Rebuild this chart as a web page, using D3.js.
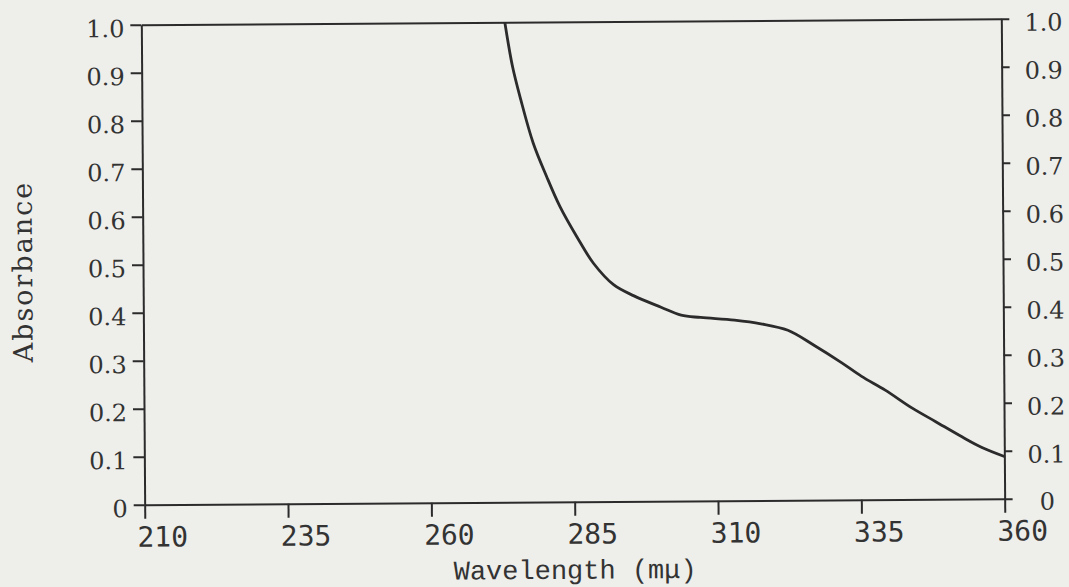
<!DOCTYPE html>
<html>
<head>
<meta charset="utf-8">
<script src="https://cdn.jsdelivr.net/npm/d3@7"></script>
<style>
  html, body { margin: 0; padding: 0; background: #eeeeeb; }
  svg { display: block; }
  .axis path, .axis line { stroke: #2b2b2b; stroke-width: 2; }
</style>
</head>
<body>
<script>

// absorbance spectrum
var wavelength = [273.4, 274.7, 276.1, 278.2, 280.5, 282.8, 285.7, 288.6, 292.1, 295.6,
                  300.3, 303.8, 307.2, 313.1, 317.7, 322.4, 327.0, 331.7, 335.2, 339.3,
                  344.0, 348.0, 352.7, 356.1, 360];
var absorbance = [1.0, 0.907, 0.838, 0.748, 0.678, 0.615, 0.552, 0.496, 0.451, 0.428,
                  0.404, 0.387, 0.382, 0.376, 0.368, 0.354, 0.322, 0.286, 0.257, 0.228,
                  0.190, 0.162, 0.129, 0.107, 0.088];

// tick labels
var xTicks = [210, 235, 260, 285, 310, 335, 360];
var yTicks = [0, 0.1, 0.2, 0.3, 0.4, 0.5, 0.6, 0.7, 0.8, 0.9, 1.0];

var width = 1069, height = 587;
var margin = {top: 22, right: 66, bottom: 85, left: 143};
var w = width - margin.left - margin.right;
var h = height - margin.top - margin.bottom;

var ink = '#2b2b2b';

var svg = d3.select('body').append('svg')
            .attr('width', width)
            .attr('height', height);

svg.append('rect')
   .attr('width', width)
   .attr('height', height)
   .attr('fill', '#eeeeeb');

// the scan is a little tilted, so tilt the whole drawing a touch
var page = svg.append('g')
              .attr('transform', 'rotate(-0.4,' + (width / 2) + ',' + (height / 2 - 30) + ')');

var focus = page.append('g')
                .attr('transform', 'translate(' + margin.left + ',' + margin.top + ')');

var xScale = d3.scaleLinear().domain([210, 360]).range([0, w]);
var yScale = d3.scaleLinear().domain([0, 1]).range([h, 0]);

var yFormat = function(d) { return d === 0 ? '0' : d3.format('.1f')(d); };

// left axis
var leftAxis = focus.append('g')
     .attr('class', 'axis axis--left')
     .call(d3.axisLeft(yScale).tickValues(yTicks).tickFormat(yFormat)
             .tickSize(11).tickSizeOuter(0).tickPadding(6));
leftAxis.selectAll('text')
        .attr('transform', 'translate(0,4)')
        .style('font-family', '"DejaVu Serif", serif')
        .style('font-size', '24px')
        .attr('fill', '#333');

// right axis
var rightAxis = focus.append('g')
     .attr('class', 'axis axis--right')
     .attr('transform', 'translate(' + w + ',0)')
     .call(d3.axisRight(yScale).tickValues(yTicks).tickFormat(yFormat)
             .tickSize(8).tickSizeOuter(0).tickPadding(15));
rightAxis.selectAll('text')
         .attr('transform', 'translate(0,4)')
         .style('font-family', '"DejaVu Serif", serif')
         .style('font-size', '24px')
         .attr('fill', '#333');
// the 0 on the right sits a little lower, past the tick
rightAxis.selectAll('.tick')
         .filter(function(d) { return d === 0; })
         .select('text')
         .attr('transform', 'translate(12,3)');

// bottom axis, labels start just left of each tick
var bottomAxis = focus.append('g')
     .attr('class', 'axis axis--x')
     .attr('transform', 'translate(0,' + h + ')')
     .call(d3.axisBottom(xScale).tickValues(xTicks).tickFormat(d3.format('d'))
             .tickSize(14).tickSizeOuter(0).tickPadding(8));
bottomAxis.selectAll('text')
          .attr('text-anchor', 'start')
          .attr('dx', '-8')
          .style('font-family', '"DejaVu Sans Mono", monospace')
          .style('font-size', '28px')
          .attr('fill', '#333');

// top border
focus.append('g')
     .attr('class', 'axis axis--top')
     .call(d3.axisTop(xScale).tickValues([]).tickSizeOuter(0));

// the spectrum
var line = d3.line()
             .x(function(d, i) { return xScale(wavelength[i]); })
             .y(function(d) { return yScale(d); })
             .curve(d3.curveCatmullRom.alpha(0.5));

focus.append('path')
     .datum(absorbance)
     .attr('d', line)
     .attr('fill', 'none')
     .attr('stroke', ink)
     .attr('stroke-width', 2.8)
     .attr('stroke-linejoin', 'round');

// axis titles
focus.append('text')
     .attr('text-anchor', 'middle')
     .attr('transform', 'translate(' + (-margin.left + 32) + ',' + (h / 2 + 6) + ')rotate(-90)')
     .style('font-family', '"DejaVu Serif", serif')
     .style('font-size', '27px')
     .style('letter-spacing', '2px')
     .attr('fill', '#333')
     .text('Absorbance');

focus.append('text')
     .attr('text-anchor', 'middle')
     .attr('x', w / 2)
     .attr('y', h + 77)
     .style('font-family', '"Liberation Mono", monospace')
     .style('font-size', '27px')
     .attr('fill', '#333')
     .text('Wavelength (m\u03bc)');

</script>
</body>
</html>
